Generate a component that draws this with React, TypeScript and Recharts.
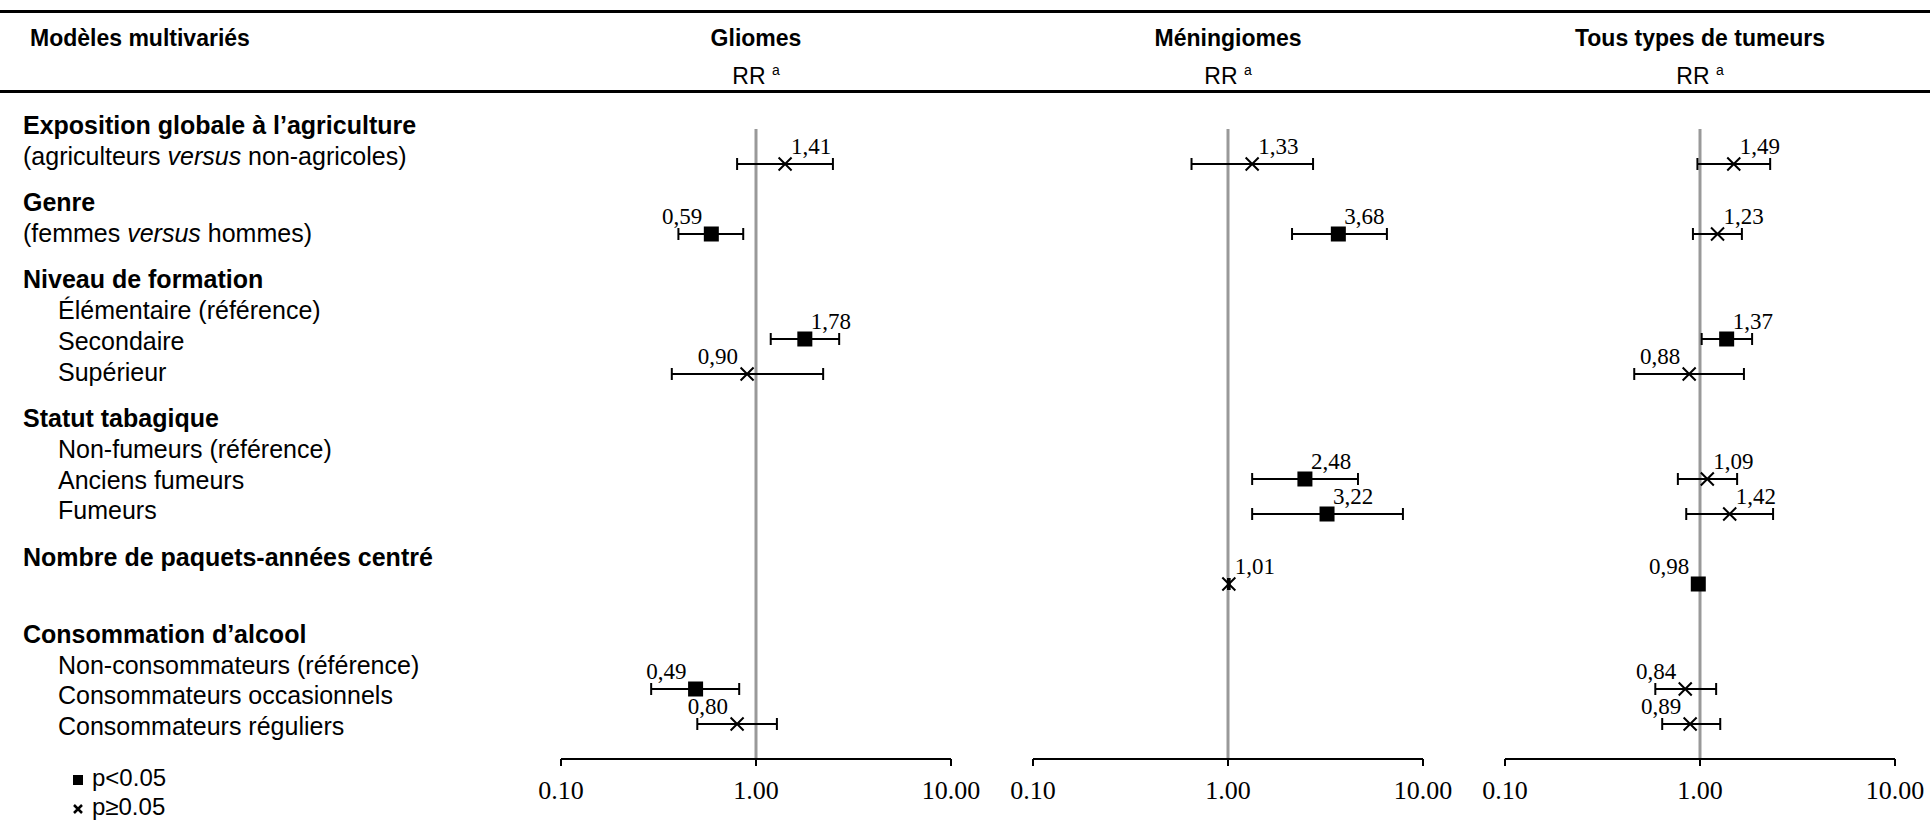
import React from 'react';
import { ScatterChart, Scatter, XAxis, YAxis, ErrorBar, ReferenceLine } from 'recharts';

// row slot of each variable in the forest plot (0 = top)
const rowIndex = [0, 2, 5, 6, 9, 10, 12, 15, 16];

const panelTitles = ['Gliomes', 'Méningiomes', 'Tous types de tumeurs'];

// RR, 95% CI and significance (1 = p<0.05)
const gliomesRR = [1.41, 0.59, 1.78, 0.9, null, null, null, 0.49, 0.8];
const gliomesLow = [0.8, 0.4, 1.19, 0.37, null, null, null, 0.29, 0.5];
const gliomesHigh = [2.48, 0.86, 2.67, 2.21, null, null, null, 0.82, 1.28];
const gliomesSig = [0, 1, 1, 0, null, null, null, 1, 0];

const meningRR = [1.33, 3.68, null, null, 2.48, 3.22, 1.01, null, null];
const meningLow = [0.65, 2.13, null, null, 1.33, 1.33, 1.0, null, null];
const meningHigh = [2.73, 6.53, null, null, 4.64, 7.89, 1.02, null, null];
const meningSig = [0, 1, null, null, 1, 1, 0, null, null];

const tousRR = [1.49, 1.23, 1.37, 0.88, 1.09, 1.42, 0.98, 0.84, 0.89];
const tousLow = [0.97, 0.92, 1.02, 0.46, 0.77, 0.85, 0.97, 0.59, 0.64];
const tousHigh = [2.29, 1.64, 1.85, 1.68, 1.55, 2.37, 0.99, 1.21, 1.27];
const tousSig = [0, 0, 1, 0, 0, 0, 1, 0, 0];

const xTicks = [0.1, 1, 10];

// left-hand labels: kind h = bold heading, s = sub line, i = indented item, '' = blank
const leftLines: [string, string][] = [
  ['h', 'Exposition globale à l’agriculture'],
  ['s', '(agriculteurs versus non-agricoles)'],
  ['h', 'Genre'],
  ['s', '(femmes versus hommes)'],
  ['h', 'Niveau de formation'],
  ['i', 'Élémentaire (référence)'],
  ['i', 'Secondaire'],
  ['i', 'Supérieur'],
  ['h', 'Statut tabagique'],
  ['i', 'Non-fumeurs (référence)'],
  ['i', 'Anciens fumeurs'],
  ['i', 'Fumeurs'],
  ['h', 'Nombre de paquets-années centré'],
  ['', ''],
  ['h', 'Consommation d’alcool'],
  ['i', 'Non-consommateurs (référence)'],
  ['i', 'Consommateurs occasionnels'],
  ['i', 'Consommateurs réguliers'],
];

const SANS = "'Liberation Sans', Arial, sans-serif";
const SERIF = "'Liberation Serif', 'Times New Roman', serif";

type Point = { row: number; rr: number; err: [number, number]; sig: boolean };

function buildPoints(rr: (number | null)[], low: (number | null)[], high: (number | null)[], sig: (number | null)[]): Point[] {
  const pts: Point[] = [];
  rr.forEach((v, i) => {
    if (v == null) return;
    pts.push({ row: rowIndex[i], rr: v, err: [v - (low[i] as number), (high[i] as number) - v], sig: sig[i] === 1 });
  });
  return pts;
}

const panels = [
  buildPoints(gliomesRR, gliomesLow, gliomesHigh, gliomesSig),
  buildPoints(meningRR, meningLow, meningHigh, meningSig),
  buildPoints(tousRR, tousLow, tousHigh, tousSig),
];

const Marker = (props: any) => {
  const { cx, cy, payload } = props;
  const label = payload.rr.toFixed(2).replace('.', ',');
  const right = payload.rr >= 1;
  return (
    <g>
      {payload.sig ? (
        <rect x={cx - 7.5} y={cy - 7.5} width={15} height={15} fill="#000" />
      ) : (
        <path
          d={`M${cx - 6.5},${cy - 6.5}L${cx + 6.5},${cy + 6.5}M${cx - 6.5},${cy + 6.5}L${cx + 6.5},${cy - 6.5}`}
          stroke="#000"
          strokeWidth={2}
        />
      )}
      <text
        x={right ? cx + 6 : cx - 9}
        y={cy - 18}
        textAnchor={right ? 'start' : 'end'}
        dominantBaseline="central"
        fontFamily={SERIF}
        fontSize={23}
        fill="#000"
      >
        {label}
      </text>
    </g>
  );
};

const AxisTick = (props: any) => {
  const { x, y, payload } = props;
  return (
    <text x={x} y={y} dy="0.71em" textAnchor="middle" fontFamily={SERIF} fontSize={26} fill="#000">
      {Number(payload.value).toFixed(2)}
    </text>
  );
};

const PLOT_W = 390;
const panelLefts = [561, 1033, 1505];

function Panel({ points, left }: { points: Point[]; left: number }) {
  return (
    <div style={{ position: 'absolute', left: left - 60, top: 100 }}>
      <ScatterChart width={PLOT_W + 120} height={719} margin={{ top: 29, right: 60, bottom: 10, left: 60 }}>
        <XAxis
          type="number"
          dataKey="rr"
          scale="log"
          domain={[0.1, 10]}
          ticks={xTicks}
          interval={0}
          allowDataOverflow
          height={50}
          axisLine={{ stroke: '#000', strokeWidth: 2 }}
          tickLine={{ stroke: '#000', strokeWidth: 2 }}
          tickSize={7}
          tickMargin={15}
          tick={<AxisTick />}
        />
        <YAxis type="number" dataKey="row" domain={[-1, 17]} reversed hide allowDataOverflow />
        <ReferenceLine x={1} stroke="#999" strokeWidth={3} />
        <Scatter data={points} shape={Marker} isAnimationActive={false}>
          <ErrorBar dataKey="err" direction="x" width={6} stroke="#000" strokeWidth={2} isAnimationActive={false} />
        </Scatter>
      </ScatterChart>
    </div>
  );
}

function LeftLabel({ kind, text, top }: { kind: string; text: string; top: number }) {
  if (!kind) return null;
  const parts = text.split('versus');
  return (
    <div
      style={{
        position: 'absolute',
        left: kind === 'i' ? 58 : 23,
        top,
        height: 30,
        lineHeight: '30px',
        fontSize: 25,
        fontWeight: kind === 'h' ? 'bold' : 'normal',
        whiteSpace: 'nowrap',
      }}
    >
      {parts.length > 1 ? (
        <>
          {parts[0]}
          <i>versus</i>
          {parts[1]}
        </>
      ) : (
        text
      )}
    </div>
  );
}

export default function App() {
  let group = -1;
  const labelEls = leftLines.map(([kind, text], i) => {
    if (kind === 'h') group += 1;
    const cy = 125 + i * 30.8 + group * 15.5;
    return <LeftLabel key={i} kind={kind} text={text} top={cy - 15} />;
  });

  return (
    <div
      style={{
        position: 'absolute',
        left: 0,
        top: 0,
        width: 1930,
        height: 820,
        overflow: 'hidden',
        background: '#fff',
        fontFamily: SANS,
        color: '#000',
      }}
    >
      <div style={{ position: 'absolute', left: 0, top: 10, width: 1930, height: 3, background: '#000' }} />
      <div style={{ position: 'absolute', left: 0, top: 90, width: 1930, height: 3, background: '#000' }} />
      <div style={{ position: 'absolute', left: 30, top: 23, lineHeight: '30px', fontSize: 23, fontWeight: 'bold' }}>
        Modèles multivariés
      </div>
      {panelTitles.map((t, i) => {
        const cx = panelLefts[i] + PLOT_W / 2;
        return (
          <React.Fragment key={t}>
            <div
              style={{
                position: 'absolute',
                left: cx - 200,
                width: 400,
                top: 23,
                textAlign: 'center',
                lineHeight: '30px',
                fontSize: 23,
                fontWeight: 'bold',
              }}
            >
              {t}
            </div>
            <div
              style={{
                position: 'absolute',
                left: cx - 200,
                width: 400,
                top: 55,
                textAlign: 'center',
                lineHeight: '30px',
                fontSize: 23,
              }}
            >
              RR <sup style={{ fontSize: 14 }}>a</sup>
            </div>
          </React.Fragment>
        );
      })}
      {labelEls}
      {panels.map((pts, i) => (
        <Panel key={i} points={pts} left={panelLefts[i]} />
      ))}
      <div style={{ position: 'absolute', left: 72, top: 763, lineHeight: '30px', fontSize: 24, whiteSpace: 'nowrap' }}>
        <svg width={12} height={12} style={{ marginRight: 8 }}>
          <rect x={1} y={1} width={10} height={10} fill="#000" />
        </svg>
        p&lt;0.05
      </div>
      <div style={{ position: 'absolute', left: 72, top: 792, lineHeight: '30px', fontSize: 24, whiteSpace: 'nowrap' }}>
        <svg width={12} height={12} style={{ marginRight: 8 }}>
          <path d="M2,2L10,10M2,10L10,2" stroke="#000" strokeWidth={2.5} />
        </svg>
        p≥0.05
      </div>
    </div>
  );
}
